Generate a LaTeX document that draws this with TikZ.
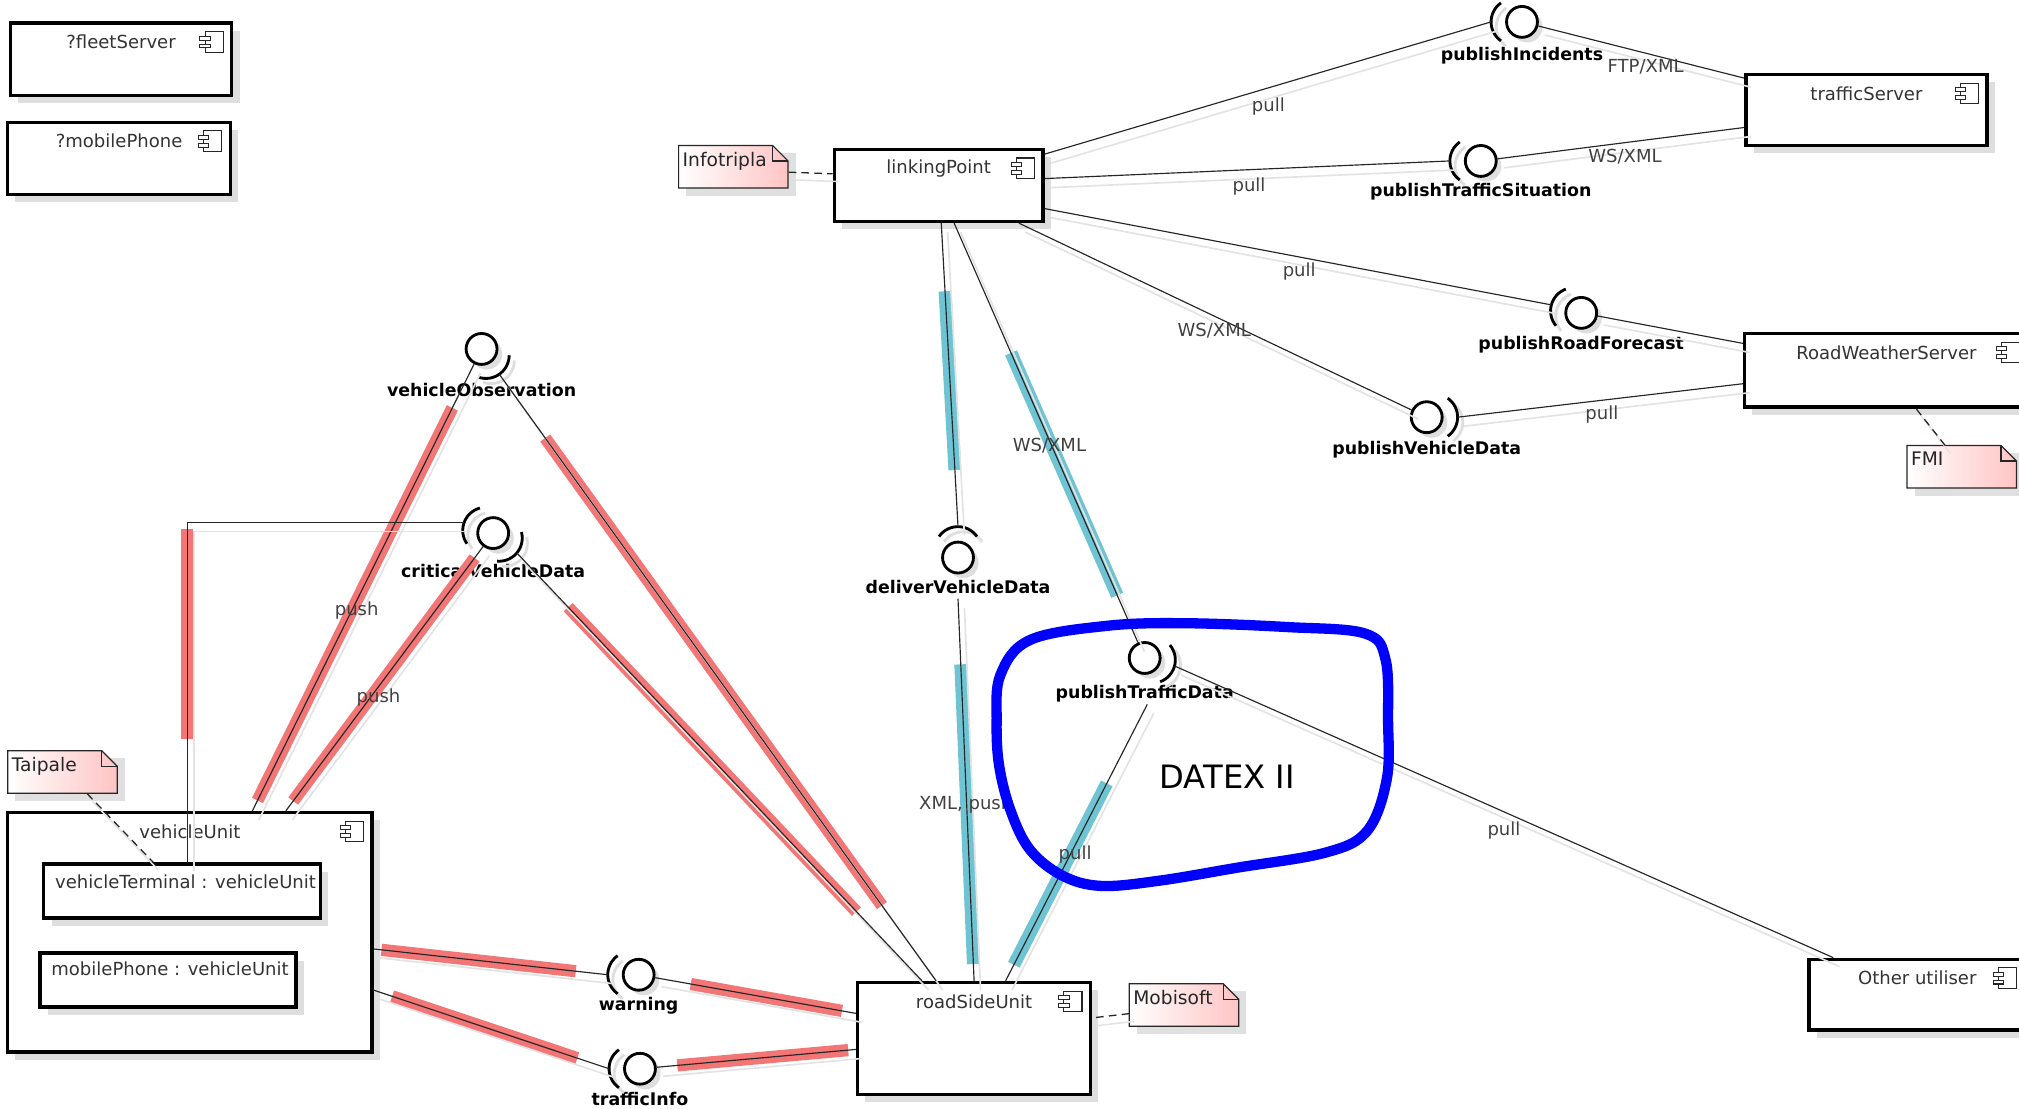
\documentclass[tikz,border=0pt]{standalone}
\usepackage{fontspec}
\setmainfont{DejaVu Sans}
\usetikzlibrary{calc,shadows}

\definecolor{hlred}{RGB}{243,118,118}
\definecolor{hlcyan}{RGB}{110,196,210}
\definecolor{notepink}{RGB}{255,196,196}
\definecolor{datexblue}{RGB}{0,0,255}

\newcommand{\compicon}[1]{%
  \draw[icon] ([shift={(-22pt,-8pt)}]#1.north east) rectangle ([shift={(-8pt,-24pt)}]#1.north east);
  \draw[icon] ([shift={(-26pt,-11.5pt)}]#1.north east) rectangle ([shift={(-18pt,-14.5pt)}]#1.north east);
  \draw[icon] ([shift={(-26pt,-17.5pt)}]#1.north east) rectangle ([shift={(-18pt,-20.5pt)}]#1.north east);
}
\newcommand{\umlcomp}[5]{%
  \node[compbox, minimum width=#3pt, minimum height=#4pt] (#1) at (#2) {};
  \node[comptitle] (#1-t) at ([yshift=-16pt]#1.north) {#5};
  \compicon{#1}
}
\newcommand{\notebox}[3]{%
  \fill[black!12] ([shift={(6pt,-6pt)}]#2) rectangle ++(85,33);
  \path[draw=black!85, line width=0.9pt, left color=white, right color=notepink]
    (#2) -- ++(73,0) -- ++(12,12) -- ++(0,21) -- ++(-85,0) -- cycle;
  \draw[black!85, line width=0.9pt] ([xshift=73pt]#2) -- ++(0,12) -- ++(12,0);
  \node[minimum width=85pt, minimum height=33pt, inner sep=0pt, anchor=north west] (#1) at (#2) {};
  \node[notetext, anchor=north west] (#1-t) at ([shift={(1pt,-3pt)}]#2) {#3};
}
\newcommand{\socket}[3]{%
  \pgfmathsetmacro\sockA{#2-55}\pgfmathsetmacro\sockB{#2+55}
  \begin{scope}[shift={($(#1.center)+(#2:6)+(4,4)$)}]
    \draw[sockshade] plot[domain=\sockA:\sockB, samples=16, smooth] ({18*cos(\x)}, {18*sin(\x)});
  \end{scope}
  \begin{scope}[shift={($(#1.center)+(#2:6)$)}]
    \draw[sockline] plot[domain=\sockA:\sockB, samples=16, smooth] ({18*cos(\x)}, {18*sin(\x)});
  \end{scope}
  \coordinate (#3) at ($(#1.center)+(#2:24)$);
}

\begin{document}
\begin{tikzpicture}[x=1pt, y=-1pt,
  compbox/.style={draw, line width=2.6pt, fill=white,
    drop shadow={shadow xshift=6pt, shadow yshift=-6pt, fill=black!13, opacity=1}},
  comptitle/.style={font=\fontsize{14}{16}\selectfont, text=black!80, inner sep=1pt},
  parttext/.style={font=\fontsize{14}{16}\selectfont, text=black!80, inner sep=1pt},
  notetext/.style={font=\fontsize{14.5}{16}\selectfont, text=black!85, inner sep=2pt},
  icon/.style={draw=black!85, fill=white, line width=0.8pt},
  iface/.style={circle, draw, line width=2.2pt, fill=white, minimum size=24pt, inner sep=0pt,
    drop shadow={shadow xshift=4pt, shadow yshift=-4pt, fill=black!13, opacity=1}},
  ilabel/.style={font=\bfseries\fontsize{13.5}{15}\selectfont, inner sep=1pt,
    text height=10pt, text depth=3pt},
  sockline/.style={draw=black, line width=2.2pt},
  sockshade/.style={draw=black!13, line width=2.2pt},
  elabel/.style={font=\fontsize{14}{16}\selectfont, text=black!75, inner sep=1pt},
  conn/.style={draw=black!85, line width=0.9pt,
    preaction={draw=black!11, line width=1.3pt, transform canvas={shift={(5pt,-7pt)}}}},
  redband/.style={draw=hlred, line width=9.5pt},
  cyanband/.style={draw=hlcyan, line width=10pt},
  notelink/.style={draw=black!85, line width=1pt, dash pattern=on 6pt off 4pt,
    preaction={draw=black!11, solid, line width=1.2pt, transform canvas={shift={(4pt,-6pt)}}}},
  datex/.style={draw=datexblue, line width=8pt, line join=round}]

\useasboundingbox (0,0) rectangle (1568,861);
\clip (0,0) rectangle (1568,861);

\umlcomp{fleetServer}{94,46}{172}{56}{?fleetServer}
\umlcomp{mobilePhoneSrv}{92.5,123}{173}{56}{?mobilePhone}
\umlcomp{linkingPoint}{729,144}{162}{56}{linkingPoint}
\umlcomp{trafficServer}{1449.5,85.5}{187}{55}{trafficServer}
\umlcomp{roadWeatherServer}{1465,287.5}{220}{57}{RoadWeatherServer}
\umlcomp{otherUtiliser}{1489,772.5}{168}{55}{Other utiliser}
\umlcomp{vehicleUnit}{147.5,724}{283}{186}{vehicleUnit}
\umlcomp{roadSideUnit}{756.5,806.5}{181}{87}{roadSideUnit}

\node[compbox, minimum width=215pt, minimum height=42pt] (vehicleTerminal) at (141.5,692) {};
\node[compbox, minimum width=199pt, minimum height=42pt] (mobilePhone) at (130.5,761) {};
\begin{scope}
  \clip (vehicleTerminal.south west) rectangle (vehicleTerminal.north east);
  \node[parttext, anchor=west] (vehicleTerminal-t) at ([shift={(9pt,-15pt)}]vehicleTerminal.north west) {vehicleTerminal : vehicleUnit};
\end{scope}
\node[parttext, anchor=west] (mobilePhone-t) at ([shift={(9pt,-14pt)}]mobilePhone.north west) {mobilePhone : vehicleUnit};

\notebox{infotripla}{527,113}{Infotripla}
\notebox{fmi}{1481,346}{FMI}
\notebox{taipale}{6,583}{Taipale}
\notebox{mobisoft}{877,764}{Mobisoft}

\node[iface, label={[ilabel, yshift=-5.5pt, name=publishIncidents-l]below:publishIncidents}] (publishIncidents) at (1182,17) {};
\node[iface, label={[ilabel, yshift=-3.5pt, name=publishTrafficSituation-l]below:publishTrafficSituation}] (publishTrafficSituation) at (1150,125) {};
\node[iface, label={[ilabel, yshift=-4.5pt, name=publishRoadForecast-l]below:publishRoadForecast}] (publishRoadForecast) at (1228,243) {};
\node[iface, label={[ilabel, yshift=-4.5pt, name=publishVehicleData-l]below:publishVehicleData}] (publishVehicleData) at (1108,324) {};
\node[iface, label={[ilabel, yshift=-12.5pt, name=vehicleObservation-l]below:vehicleObservation}] (vehicleObservation) at (374,271) {};
\node[iface, label={[ilabel, yshift=-10.5pt, name=criticalVehicleData-l]below:criticalVehicleData}] (criticalVehicleData) at (383,414) {};
\node[iface, label={[ilabel, yshift=-3.5pt, name=deliverVehicleData-l]below:deliverVehicleData}] (deliverVehicleData) at (744,433) {};
\node[iface, label={[ilabel, yshift=-7.5pt, name=publishTrafficData-l]below:publishTrafficData}] (publishTrafficData) at (889,511) {};
\node[iface, label={[ilabel, yshift=-3.5pt, name=warning-l]below:warning}] (warning) at (496,757) {};
\node[iface, label={[ilabel, yshift=-4.5pt, name=trafficInfo-l]below:trafficInfo}] (trafficInfo) at (497,830) {};

\socket{publishIncidents}{180}{publishIncidents-s}
\socket{publishTrafficSituation}{180}{publishTrafficSituation-s}
\socket{publishRoadForecast}{195}{publishRoadForecast-s}
\socket{publishVehicleData}{0}{publishVehicleData-s}
\socket{vehicleObservation}{55}{vehicleObservation-s}
\socket{criticalVehicleData}{200}{criticalVehicleData-s1}
\socket{criticalVehicleData}{40}{criticalVehicleData-s2}
\socket{deliverVehicleData}{270}{deliverVehicleData-s}
\socket{publishTrafficData}{15}{publishTrafficData-s}
\socket{warning}{180}{warning-s}
\socket{trafficInfo}{180}{trafficInfo-s}

% highlighted stretches
\draw[cyanband, shorten <=53pt, shorten >=44pt] ([xshift=2pt]linkingPoint.south) -- (deliverVehicleData-s);
\draw[cyanband, shorten <=51pt, shorten >=13pt] (deliverVehicleData-l.south) -- (roadSideUnit.north);
\draw[cyanband, shorten <=110pt, shorten >=40pt] ([xshift=12pt]linkingPoint.south) -- (publishTrafficData);
\draw[cyanband, shorten <=69pt, shorten >=14pt] ([xshift=2pt]publishTrafficData-l.south) -- ([xshift=24.5pt]roadSideUnit.north);
\draw[redband, shorten <=9pt, shorten >=38pt] ([xshift=48.5pt]vehicleUnit.north) -- (vehicleObservation);
\draw[redband, shorten <=61pt, shorten >=72pt] (vehicleObservation-s) -- ([xshift=-29.5pt]roadSideUnit.north);
\draw[redband] ([xshift=4pt]vehicleTerminal.north) ++(0,-96) -- ++(0,-163);
\draw[redband, shorten <=9.5pt, shorten >=11pt] ([xshift=74.5pt]vehicleUnit.north) -- (criticalVehicleData);
\draw[redband, shorten <=58pt, shorten >=74pt] (criticalVehicleData-s2) -- ([xshift=-40.5pt]roadSideUnit.north);
\draw[redband, shorten <=6pt, shorten >=25pt] ([yshift=-13pt]vehicleUnit.east) -- (warning-s);
\draw[redband, shorten <=28pt, shorten >=11pt] (warning) -- ([yshift=19.5pt]roadSideUnit.west);
\draw[redband, shorten <=15pt, shorten >=26pt] ([yshift=-45pt]vehicleUnit.east) -- (trafficInfo-s);
\draw[redband, shorten <=16pt, shorten >=6pt] (trafficInfo) -- ([yshift=-8.5pt]roadSideUnit.west);

\draw[conn] ([yshift=-5pt]linkingPoint.north east) -- (publishIncidents-s);
\draw[conn] (publishIncidents) -- ([yshift=-4pt]trafficServer.north west);
\draw[conn] ([yshift=-24pt]linkingPoint.north east) -- (publishTrafficSituation-s);
\draw[conn] (publishTrafficSituation) -- ([yshift=-13.5pt]trafficServer.west);
\draw[conn] ([yshift=-18pt]linkingPoint.east) -- (publishRoadForecast-s);
\draw[conn] (publishRoadForecast) -- ([yshift=-9pt]roadWeatherServer.north west);
\draw[conn] ([xshift=-20pt]linkingPoint.south east) -- (publishVehicleData);
\draw[conn] (publishVehicleData-s) -- ([yshift=-10.5pt]roadWeatherServer.west);
\draw[conn] ([xshift=2pt]linkingPoint.south) -- (deliverVehicleData-s);
\draw[conn] (deliverVehicleData-l.south) -- (roadSideUnit.north);
\draw[conn] ([xshift=12pt]linkingPoint.south) -- (publishTrafficData);
\draw[conn] ([xshift=2pt]publishTrafficData-l.south) -- ([xshift=24.5pt]roadSideUnit.north);
\draw[conn] (publishTrafficData-s) -- ([xshift=20pt]otherUtiliser.north west);
\draw[conn] ([xshift=48.5pt]vehicleUnit.north) -- (vehicleObservation);
\draw[conn] (vehicleObservation-s) -- ([xshift=-29.5pt]roadSideUnit.north);
\draw[conn] ([xshift=4pt]vehicleTerminal.north) |- (criticalVehicleData-s1);
\draw[conn] ([xshift=74.5pt]vehicleUnit.north) -- (criticalVehicleData);
\draw[conn] (criticalVehicleData-s2) -- ([xshift=-40.5pt]roadSideUnit.north);
\draw[conn] ([yshift=-13pt]vehicleUnit.east) -- (warning-s);
\draw[conn] (warning) -- ([yshift=19.5pt]roadSideUnit.west);
\draw[conn] ([yshift=-45pt]vehicleUnit.east) -- (trafficInfo-s);
\draw[conn] (trafficInfo) -- ([yshift=-8.5pt]roadSideUnit.west);

\draw[notelink] ([yshift=-4pt]infotripla.east) -- ([yshift=9pt]linkingPoint.west);
\draw[notelink] ([xshift=-13pt]fmi.north) -- ([xshift=23pt]roadWeatherServer.south);
\draw[notelink] ([xshift=19pt]taipale.south) -- ([xshift=-22.5pt]vehicleTerminal.north);
\draw[notelink] ([yshift=-6.5pt]mobisoft.west) -- ([yshift=16pt]roadSideUnit.east);

\node[elabel] (pullIncidents) at (985,83) {pull};
\node[elabel] (ftpXml) at (1278,52) {FTP/XML};
\node[elabel] (pullSituation) at (970,145) {pull};
\node[elabel] (wsXmlSituation) at (1262,122) {WS/XML};
\node[elabel] (pullForecast) at (1009,211) {pull};
\node[elabel] (wsXmlVehicle) at (943,257) {WS/XML};
\node[elabel] (pullWeather) at (1244,322) {pull};
\node[elabel] (wsXmlTraffic) at (815,346) {WS/XML};
\node[elabel] (xmlPush) at (750,625) {XML, push};
\node[elabel] (pullRoadSide) at (835,664) {pull};
\node[elabel] (pullOther) at (1168,645) {pull};
\node[elabel] (pushObservation) at (277,474) {push};
\node[elabel] (pushCritical) at (294,542) {push};

\draw[datex] plot[smooth cycle, tension=0.6] coordinates {(774,560) (777,524) (800,497)
  (860,486) (920,484) (1000,487) (1060,492) (1076,512) (1078,560) (1077,605) (1062,645)
  (1030,662) (960,674) (900,684) (855,688) (825,680) (800,660) (785,630) (776,595)};
\node[font=\fontsize{25}{28}\selectfont] (datexLabel) at (953,603) {DATEX II};

\end{tikzpicture}
\end{document}
